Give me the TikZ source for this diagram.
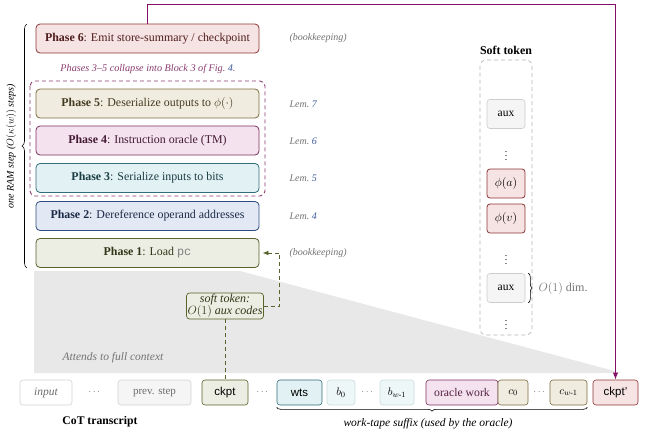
\documentclass[tikz,border=0pt]{standalone}
\usepackage{fontspec}
\setmainfont{Liberation Serif}
\setsansfont{Liberation Sans}
\setmonofont{Liberation Mono}
\usepackage{amsmath}
\usepackage{tikz}
\usetikzlibrary{calc,arrows.meta,decorations.pathreplacing}
\definecolor{ph6-fill}{HTML}{F6E3E3}
\definecolor{ph6-draw}{HTML}{8E3535}
\definecolor{ph5-fill}{HTML}{F1ECE0}
\definecolor{ph5-draw}{HTML}{7C6B3E}
\definecolor{ph4-fill}{HTML}{F4E3EE}
\definecolor{ph4-draw}{HTML}{7B2F5F}
\definecolor{ph3-fill}{HTML}{E2F1F3}
\definecolor{ph3-draw}{HTML}{2F6E7A}
\definecolor{ph2-fill}{HTML}{E3E9F4}
\definecolor{ph2-draw}{HTML}{2F4C80}
\definecolor{ph1-fill}{HTML}{EDEEE3}
\definecolor{ph1-draw}{HTML}{56632A}
\definecolor{wp-link}{HTML}{850F68}
\definecolor{wp-collapse}{HTML}{8A3A6E}
\definecolor{wp-lem}{HTML}{3A5A9A}
\definecolor{wp-shade}{HTML}{E8E8E8}

\begin{document}
\begin{tikzpicture}[x=1pt, y=-1pt,
    phase/.style={rounded corners=4pt, line width=0.8pt, minimum width=223pt,
      minimum height=29pt, inner sep=0pt, font=\fontsize{11.9}{13}\selectfont},
    note/.style={anchor=west, text=gray!90!black, font=\fontsize{10}{12}\selectfont\itshape},
    tok/.style={rounded corners=3pt, line width=0.6pt, minimum height=25pt,
      inner sep=0pt, font=\fontsize{11}{13}\selectfont},
    sftok/.style={tok, font=\sffamily\fontsize{11.5}{13}\selectfont},
    slot/.style={rounded corners=3pt, line width=0.6pt, minimum width=38pt,
      minimum height=29pt, inner sep=0pt, font=\fontsize{11.5}{13}\selectfont},
    gap/.style={text=gray, font=\fontsize{10}{12}\selectfont},
    vdot/.style={inner sep=0pt, font=\fontsize{10}{12}\selectfont}]
    \useasboundingbox (0,0) rectangle (645,434);
    \fill[wp-shade] (34,271) -- (240,271) -- (622,373) -- (34,373) -- cycle;
    \node[note, anchor=center, font=\fontsize{11.5}{13}\selectfont\itshape] (ctx) at (113,358)
      {Attends to full context};

    \node[phase, fill=ph6-fill, draw=ph6-draw, text=ph6-draw!55!black] (p6) at (147.5,38.5)
      {\textbf{Phase 6}: Emit store-summary / checkpoint};
    \node[phase, fill=ph5-fill, draw=ph5-draw, text=ph5-draw!55!black] (p5) at (147.5,103.5)
      {\textbf{Phase 5}: Deserialize outputs to $\phi(\cdot)$};
    \node[phase, fill=ph4-fill, draw=ph4-draw, text=ph4-draw!55!black] (p4) at (147.5,140.5)
      {\textbf{Phase 4}: Instruction oracle (TM)};
    \node[phase, fill=ph3-fill, draw=ph3-draw, text=ph3-draw!55!black] (p3) at (147.5,178)
      {\textbf{Phase 3}: Serialize inputs to bits};
    \node[phase, fill=ph2-fill, draw=ph2-draw, text=ph2-draw!55!black] (p2) at (147.5,216)
      {\textbf{Phase 2}: Dereference operand addresses};
    \node[phase, fill=ph1-fill, draw=ph1-draw, text=ph1-draw!55!black] (p1) at (147.5,253)
      {\textbf{Phase 1}: Load \texttt{\textcolor{gray}{pc}}};

    \draw[wp-collapse, line width=0.9pt, dash pattern=on 4pt off 3pt, rounded corners=5pt]
      (30,81) rectangle (265,196);
    \node[font=\fontsize{10.2}{12}\selectfont\itshape, text=wp-collapse] (clbl) at (148,69)
      {Phases 3--5 collapse into Block 3 of Fig.~\textcolor{wp-lem}{4}.};

    \node[note] (bk6) at (286,38.5) {(bookkeeping)};
    \node[note] (l7) at (286,104) {Lem.~\textcolor{wp-lem}{7}};
    \node[note] (l6) at (286,141) {Lem.~\textcolor{wp-lem}{6}};
    \node[note] (l5) at (286,178) {Lem.~\textcolor{wp-lem}{5}};
    \node[note] (l4) at (286,216) {Lem.~\textcolor{wp-lem}{4}};
    \node[note] (bk1) at (286,253) {(bookkeeping)};

    \draw[decorate, decoration={brace, amplitude=5pt}, line width=0.6pt]
      (27,268) -- (27,24);
    \node[rotate=90, font=\fontsize{10}{12}\selectfont\itshape] (steps) at (11,146)
      {one RAM step ($O(\kappa(w))$ steps)};

    \node[rounded corners=3pt, line width=0.7pt, fill=ph1-fill, draw=ph1-draw,
      text=ph1-draw!55!black, align=center, inner sep=1pt,
      font=\fontsize{12}{12.5}\selectfont\itshape] (stk) at (225,306)
      {soft token:\\$O(1)$ aux codes};

    \node[tok, minimum width=52pt, fill=white, draw=gray!35, text=gray!85!black,
      font=\fontsize{11.5}{13}\selectfont\itshape] (inp) at (46,392.5) {input};
    \node[gap] (d1) at (95,392) {$\cdots$};
    \node[tok, minimum width=73pt, fill=gray!8, draw=gray!35, text=gray!85!black] (prev)
      at (154.5,392.5) {prev. step};
    \node[sftok, minimum width=46pt, fill=ph1-fill, draw=ph1-draw] (ckpt) at (225,392.5) {ckpt};
    \node[gap] (d2) at (263,392) {$\cdots$};
    \node[sftok, minimum width=45pt, fill=ph3-fill, draw=ph3-draw] (wts) at (299.5,392.5) {wts};
    \node[tok, minimum width=28pt, fill=ph3-fill!60, draw=ph3-draw!25] (b0) at (341,392.5) {$b_0$};
    \node[gap] (d3) at (368,392) {$\cdots$};
    \node[tok, minimum width=34pt, fill=ph3-fill!60, draw=ph3-draw!25] (bw) at (397,392.5)
      {$b_{w\text{-}1}$};
    \node[tok, minimum width=72pt, fill=ph4-fill, draw=ph4-draw, text=ph4-draw!70!black,
      font=\fontsize{11.7}{13}\selectfont] (orc) at (462,392.5) {oracle work};
    \node[tok, minimum width=30pt, fill=ph5-fill, draw=ph5-draw] (c0) at (513,392.5) {$c_0$};
    \node[gap] (d4) at (540,392) {$\cdots$};
    \node[tok, minimum width=37pt, fill=ph5-fill, draw=ph5-draw] (cw) at (568.5,392.5)
      {$c_{w\text{-}1}$};
    \node[sftok, minimum width=45pt, fill=ph6-fill, draw=ph6-draw] (ckptp) at (615.5,392.5) {ckpt'};

    \draw[decorate, decoration={brace, amplitude=4pt}, line width=0.6pt]
      ($(cw.south east)+(0,2)$) -- ($(wts.south west)+(0,2)$);
    \node[font=\fontsize{11.5}{13}\selectfont\itshape] (wlbl) at (428,424)
      {work-tape suffix (used by the oracle)};
    \node[font=\fontsize{11.7}{13}\selectfont\bfseries] (cot) at (100,422) {CoT transcript};

    \draw[ph1-draw, line width=0.8pt, dash pattern=on 4pt off 3pt, -{Latex[length=6pt]},
      shorten >=3pt] (stk.east) -- ++(16,0) |- (p1.east);
    \draw[ph1-draw, line width=0.8pt, dash pattern=on 4pt off 3pt] (stk.south) -- (ckpt.north);
    \draw[wp-link, line width=1pt, -{Latex[length=7pt]}]
      (p6.north) -- ++(0,-19) -| (ckptp.north);

    \node[font=\fontsize{11.9}{13}\selectfont\bfseries] (sttl) at (506,50) {Soft token};
    \node[draw=gray!60, dash pattern=on 4pt off 3pt, rounded corners=6pt, line width=0.6pt,
      minimum width=52pt, minimum height=275pt] (spanel) at (506,197.5) {};
    \node[slot, fill=gray!8, draw=gray!40] (aux1) at (506,114) {aux};
    \node[vdot] (v1) at (506,153) {$\vdots$};
    \node[slot, fill=ph6-fill, draw=ph6-draw, line width=0.8pt] (phia) at (506,183.5) {$\phi(a)$};
    \node[slot, fill=ph6-fill, draw=ph6-draw, line width=0.8pt] (phiv) at (506,218.5) {$\phi(v)$};
    \node[vdot] (v2) at (506,257) {$\vdots$};
    \node[slot, fill=gray!8, draw=gray!40] (aux2) at (506,288) {aux};
    \node[vdot] (v3) at (506,322) {$\vdots$};
    \draw[decorate, decoration={brace, amplitude=4pt}, line width=0.6pt]
      ($(aux2.north east)+(3,0)$) -- ($(aux2.south east)+(3,0)$);
    \node[anchor=west, text=gray!90!black, font=\fontsize{12}{13}\selectfont] (odim) at (535,288)
      {$O(1)$ dim.};
\end{tikzpicture}
\end{document}
